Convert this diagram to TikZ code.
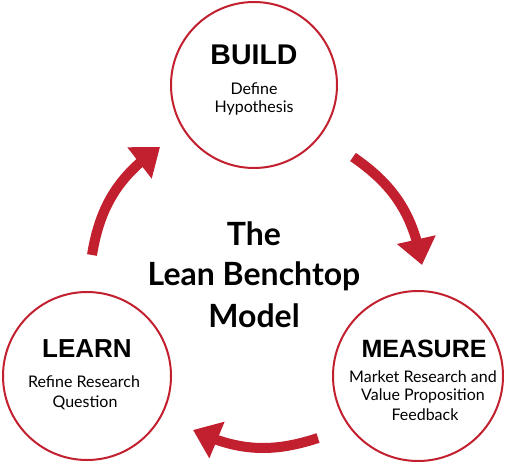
\documentclass[tikz,border=0pt]{standalone}
\usepackage{fontspec}
\setmainfont{Lato}
\newfontfamily\headfont{Liberation Sans}
\usetikzlibrary{arrows.meta,bending}
\definecolor{cred}{HTML}{C21F2F}
\tikzset{
  ring/.style={circle, draw=cred, line width=2pt, inner sep=0pt},
  head/.style={font=\headfont\bfseries\fontsize{#1}{#1}\selectfont, anchor=base, inner sep=0pt},
  sub/.style={font=\fontsize{16}{18}\selectfont, anchor=base, inner sep=0pt},
  ttl/.style={font=\bfseries\fontsize{32}{36}\selectfont, anchor=base, inner sep=0pt},
  cyc/.style={draw=cred, line width=10pt, -{Triangle[width=38pt,length=26pt]}}
}
\begin{document}
\begin{tikzpicture}[x=1pt,y=1pt]
\useasboundingbox (0,0) rectangle (510,464);
% circles
\node[ring, minimum size=166pt] (build) at (254,379) {};
\node[ring, minimum size=168pt] (learn) at (87,88) {};
\node[ring, minimum size=170pt] (measure) at (418,88) {};
% BUILD
\node[head=28.5] (bt) at (254,399) {BUILD};
\node[sub] (b1) at (254,369.5) {Define};
\node[sub] (b2) at (254,351.3) {Hypothesis};
% LEARN
\node[head=26] (lt) at (87,107) {LEARN};
\node[sub] (l1) at (84,76.7) {Refine Research};
\node[sub] (l2) at (85,57) {Question};
% MEASURE
\node[head=25] (mt) at (424,107) {MEASURE};
\node[sub] (m1) at (423,82) {Market Research and};
\node[sub] (m2) at (423,64) {Value Proposition};
\node[sub] (m3) at (425,44) {Feedback};
% title
\node[ttl] (t1) at (254,219) {The};
\node[ttl] (t2) at (254,179) {Lean Benchtop};
\node[ttl] (t3) at (254,137) {Model};
% arrows
\coordinate (a1s) at (92,209);
\coordinate (a1e) at (160,317);
\coordinate (a2s) at (353,307);
\coordinate (a2e) at (422,199);
\coordinate (a3s) at (318,26);
\coordinate (a3e) at (193,34);
\draw[cyc] (a1s) to[bend left=23] (a1e);
\draw[cyc] (a2s) to[bend left=23] (a2e);
\draw[cyc] (a3s) to[bend left=22] (a3e);
\end{tikzpicture}
\end{document}
